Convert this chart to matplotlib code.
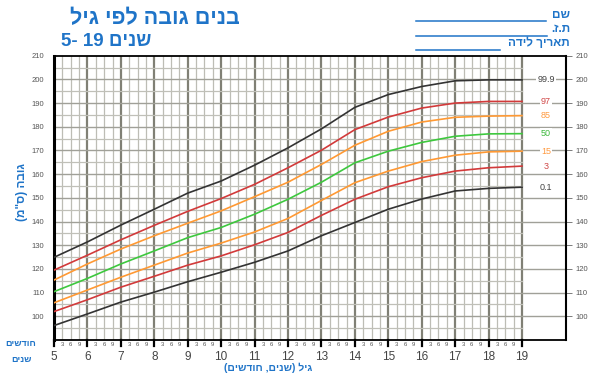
import matplotlib
matplotlib.use("Agg")
import matplotlib.pyplot as plt
import numpy as np

plt.rcParams['font.family'] = ['Liberation Sans', 'DejaVu Sans']

ages = [5, 6, 7, 8, 9, 10, 11, 12, 13, 14, 15, 16, 17, 18, 19]
p999 = [124.9, 131.4, 138.5, 145.2, 152.0, 157.1, 163.8, 171.1, 179.1, 188.2, 193.6, 197.0, 199.4, 199.8, 199.8]
p97 = [119.5, 125.8, 132.3, 138.4, 144.3, 149.7, 155.7, 162.7, 170.1, 178.8, 184.1, 187.9, 190.0, 190.7, 190.7]
p85 = [115.3, 122.1, 128.4, 134.0, 139.3, 144.5, 150.5, 156.6, 164.1, 172.2, 178.1, 182.0, 184.0, 184.5, 184.7]
p50 = [110.4, 116.0, 122.1, 127.6, 133.2, 137.5, 143.1, 149.4, 156.6, 164.8, 169.7, 173.4, 176.0, 177.0, 177.1]
p15 = [105.7, 111.1, 116.5, 121.6, 126.7, 130.9, 135.6, 141.3, 148.9, 156.4, 161.3, 165.3, 168.0, 169.4, 169.7]
p3 = [102.0, 107.0, 112.3, 116.9, 121.6, 125.5, 130.2, 135.4, 142.6, 149.4, 154.7, 158.5, 161.3, 162.7, 163.4]
p01 = [96.1, 101.0, 106.0, 110.2, 114.6, 118.6, 122.8, 127.6, 134.0, 139.6, 145.2, 149.5, 152.9, 154.0, 154.5]

percentile_labels = ["99.9", "97", "85", "50", "15", "3", "0.1"]
series = [p999, p97, p85, p50, p15, p3, p01]
colors = ["#333333", "#d23a3a", "#ff9933", "#3ec83e", "#ff9933", "#d23a3a", "#333333"]
label_colors = ["#444444", "#d04848", "#ff9a40", "#3ab83a", "#ff9a40", "#d04848", "#444444"]

title = "בנים גובה לפי גיל"
subtitle_word = "שנים"
ylabel = 'גובה (ס"מ)'
xlabel = "גיל (שנים, חודשים)"
months_word = "חודשים"
years_word = "שנים"
form_fields = ["שם", "ת.ז.", "תאריך לידה"]
y_ticks = list(range(100, 211, 10))
month_ticks = ["3", "6", "9"]

BLUE = "#1f74c8"


def vis(s):
    return s[::-1].translate(str.maketrans("()", ")("))


W, H = 600, 377
fig = plt.figure(figsize=(6, 3.77), dpi=100)
x0, x1 = 54, 566
ytop, ybot = 55.7, 340
ax = fig.add_axes([x0 / W, 1 - ybot / H, (x1 - x0) / W, (ybot - ytop) / H])
XMAX = 5 + (x1 - x0) / 33.43
ax.set_xlim(5, XMAX)
ax.set_ylim(90, 210)

# grid
for m in np.arange(5, 19.01, 0.25):
    if abs(m - round(m)) < 1e-6:
        ax.plot([m, m], [90, 210], color="#808075", lw=1.6, zorder=1)
    else:
        ax.plot([m, m], [90, 210], color="#bdbdb5", lw=0.9, zorder=1)
for h in range(95, 210, 5):
    if h % 10 == 0:
        ax.plot([5, XMAX], [h, h], color="#a0a098", lw=1.0, zorder=1)
    else:
        ax.plot([5, 19], [h, h], color="#c0c0b8", lw=0.9, zorder=1)

for s, c in zip(series, colors):
    ax.plot(ages, s, color=c, lw=1.2, zorder=3)

for s, lab, c in zip(series, percentile_labels, label_colors):
    ax.text(19.72, s[-1], lab, color=c, fontsize=6.5, ha="center", va="center",
            zorder=4, bbox=dict(facecolor="white", edgecolor="none", pad=0.8))

for sp in ax.spines.values():
    sp.set_color("black")
ax.spines['left'].set_linewidth(2.2)
ax.spines['bottom'].set_linewidth(1.3)
ax.spines['top'].set_linewidth(1.3)
ax.spines['right'].set_linewidth(1.5)

ax.set_xticks([])
ax.set_yticks(y_ticks)
ax.tick_params(axis='y', which='both', left=True, right=True, labelleft=True, labelright=True,
               length=4, width=0.6, color="#666666", labelsize=5.5, labelcolor="#555555", pad=3)
ax.tick_params(axis='y', left=False)

# bottom ticks and labels
trans = ax.get_xaxis_transform()
for yr in range(5, 20):
    ax.plot([yr, yr], [0, -0.02], transform=trans, color="black", lw=1.6, clip_on=False)
    ax.text(yr, -0.04, str(yr), transform=trans, ha="center", va="top", fontsize=8.5,
            color="#444444")
    if yr < 19:
        for i, mt in enumerate(month_ticks):
            ax.text(yr + 0.25 * (i + 1), -0.008, mt, transform=trans, ha="center", va="top",
                    fontsize=4.2, color="#555555")

# texts
fig.text(155 / W, 1 - 19 / H, vis(title), ha="center", va="center", fontsize=15.5,
         fontweight="bold", color=BLUE)
fig.text(106 / W, 1 - 42 / H, "5- 19 " + vis(subtitle_word), ha="center", va="center",
         fontsize=13.5, fontweight="bold", color=BLUE)
fig.text(22 / W, 1 - 192 / H, vis(ylabel), ha="center", va="center", rotation=90,
         fontsize=8.5, fontweight="bold", color=BLUE)
fig.text(268 / W, 1 - 368 / H, vis(xlabel), ha="center", va="center", fontsize=7.5,
         fontweight="bold", color=BLUE)
fig.text(21 / W, 1 - 343 / H, vis(months_word), ha="center", va="center", fontsize=6.5,
         fontweight="bold", color=BLUE)
fig.text(21 / W, 1 - 359 / H, vis(years_word), ha="center", va="center", fontsize=6.5,
         fontweight="bold", color=BLUE)

field_y = [15, 29.5, 43.5]
line_x_end = [546, 547, 500]
for fy, txt, xe in zip(field_y, form_fields, line_x_end):
    fig.text(570 / W, 1 - fy / H, vis(txt), ha="right", va="center", fontsize=8.5,
             fontweight="bold", color=BLUE)
    fig.add_artist(plt.Line2D([416 / W, xe / W], [1 - (fy + 6) / H, 1 - (fy + 6) / H],
                              color=BLUE, lw=1.1))

fig.savefig("out.png", dpi=100)
